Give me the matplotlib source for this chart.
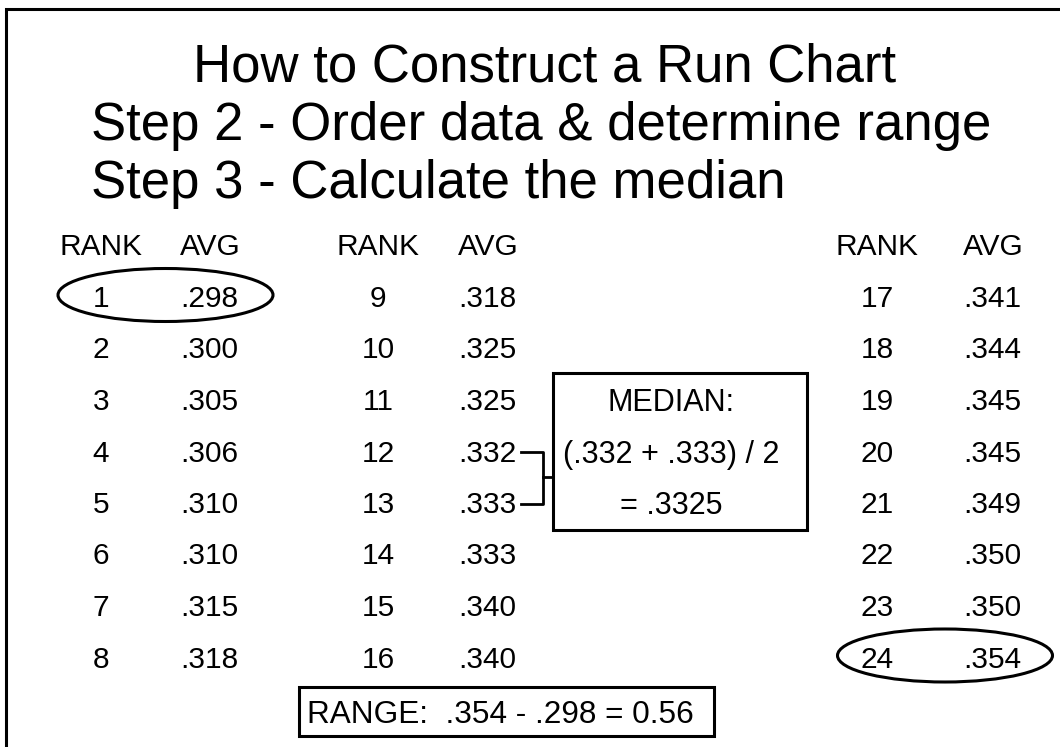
"""Slide: How to construct a run chart - ordered data, range and median."""

import matplotlib
matplotlib.use("Agg")
import matplotlib.pyplot as plt
from matplotlib.patches import Ellipse, Rectangle

plt.rcParams["font.family"] = ["Liberation Sans", "DejaVu Sans"]

title = "How to Construct a Run Chart"
steps = ["Step 2 - Order data & determine range", "Step 3 - Calculate the median"]

ranks = list(range(1, 25))
avgs = [".298", ".300", ".305", ".306", ".310", ".310", ".315", ".318",
        ".318", ".325", ".325", ".332", ".333", ".333", ".340", ".340",
        ".341", ".344", ".345", ".345", ".349", ".350", ".350", ".354"]
headers = ["RANK", "AVG"]

median_lines = ["MEDIAN:", "(.332 + .333) / 2", "= .3325"]
range_text = "RANGE:  .354 - .298 = 0.56"

# layout (pixel coords, y down)
rank_x = [101, 378, 877]      # centre of rank column
avg_x = [180, 458, 963]       # left edge of avg column
header_y = 255
row0_y = 307
row_dy = 51.5
rows_per_col = 8
fs_table = 21.5
fs_box = 22

fig = plt.figure(figsize=(10.6, 7.47), dpi=100)
ax = fig.add_axes([0, 0, 1, 1])
ax.set_xlim(0, 1060)
ax.set_ylim(747, 0)
ax.axis("off")

# slide border (runs off right and bottom edge)
ax.plot([6, 6, 1070], [760, 8.5, 8.5], color="black", lw=2.2, solid_joinstyle="miter")

# title
ax.text(545, 82, title, fontsize=38, ha="center", va="baseline")
for i, s in enumerate(steps):
    ax.text(91, 140 + i * 58, s, fontsize=38, ha="left", va="baseline")

# table
for c in range(3):
    ax.text(rank_x[c], header_y, headers[0], fontsize=fs_table, ha="center", va="baseline")
    ax.text(avg_x[c], header_y, headers[1], fontsize=fs_table, ha="left", va="baseline")
for i, (r, a) in enumerate(zip(ranks, avgs)):
    c, row = divmod(i, rows_per_col)
    y = row0_y + row * row_dy
    ax.text(rank_x[c], y, str(r), fontsize=fs_table, ha="center", va="baseline")
    ax.text(avg_x[c], y, a, fontsize=fs_table, ha="left", va="baseline")


def row_center(i):
    c, row = divmod(i, rows_per_col)
    return c, row0_y + row * row_dy - 13


# ellipses around min and max
for i in (0, len(ranks) - 1):
    c, yc = row_center(i)
    xc = (rank_x[c] + avg_x[c] + 58) / 2 - 4
    ax.add_patch(Ellipse((xc, yc + 1), 215, 53, fill=False, ec="black", lw=2.2))

# median bracket from ranks 12 and 13
_, y12 = row_center(11)
_, y13 = row_center(12)
bx = 543
ax.plot([521, bx, bx, 521], [y12 + 3, y12 + 3, y13 + 4, y13 + 4], color="black", lw=2)
ax.plot([bx, 553], [(y12 + y13) / 2 + 3, (y12 + y13) / 2 + 3], color="black", lw=2)

# median box
ax.add_patch(Rectangle((553, 373), 254, 157, fill=False, ec="black", lw=2.2))
for k, line in enumerate(median_lines):
    ax.text(671, row0_y + (2 + k) * row_dy + 1, line, fontsize=fs_box, ha="center", va="baseline")

# range box
ax.add_patch(Rectangle((299, 687), 415, 49, fill=False, ec="black", lw=2.2))
ax.text(307, 723, range_text, fontsize=22.7, ha="left", va="baseline")

fig.savefig("out.png", dpi=100)
